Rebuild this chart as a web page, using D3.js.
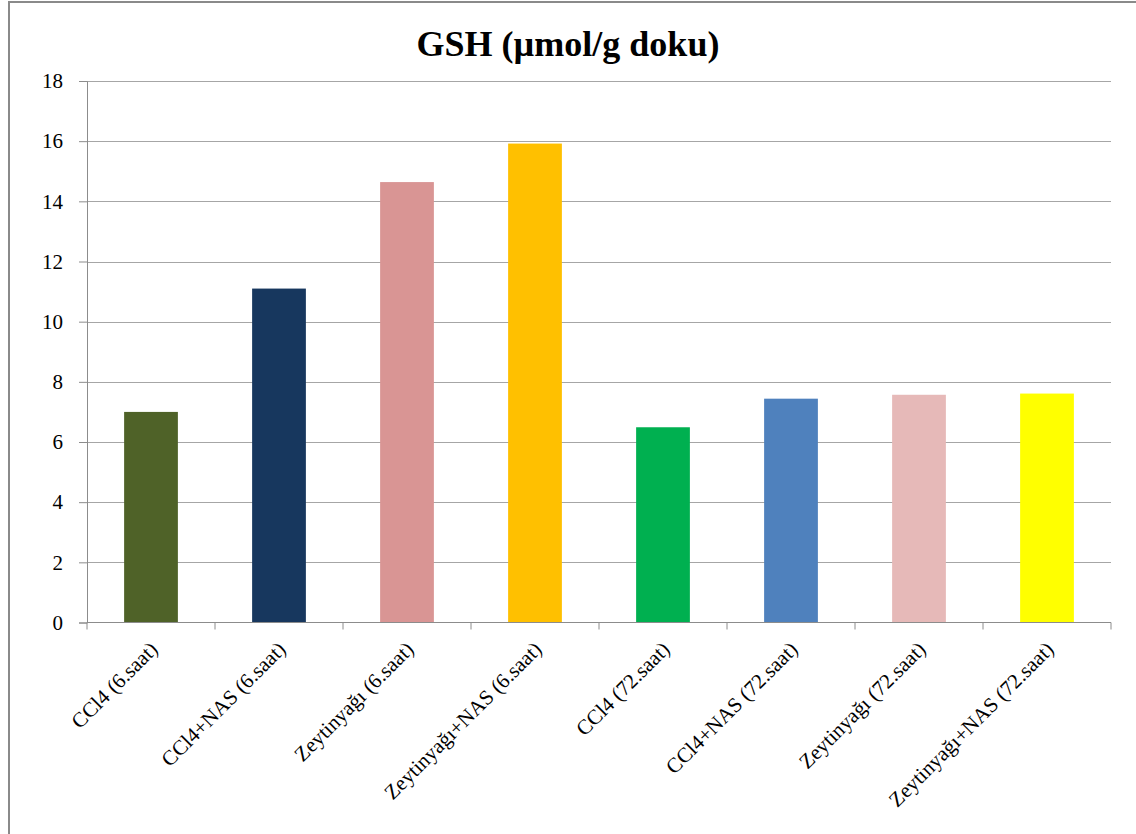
<!DOCTYPE html>
<html>
<head>
<meta charset="utf-8">
<script src="https://cdn.jsdelivr.net/npm/d3@7"></script>
<style>
  html, body { margin: 0; padding: 0; background: #fff; }
  svg { display: block; }
  text { font-family: "Liberation Serif", "Times New Roman", serif; fill: #000; }
</style>
</head>
<body>
<svg id="chart" width="1136" height="834"></svg>
<script>
// GSH levels per group
const categories = [
  "CCl4 (6.saat)",
  "CCl4+NAS (6.saat)",
  "Zeytinyağı (6.saat)",
  "Zeytinyağı+NAS (6.saat)",
  "CCl4 (72.saat)",
  "CCl4+NAS (72.saat)",
  "Zeytinyağı (72.saat)",
  "Zeytinyağı+NAS (72.saat)"
];
const values = [7.0, 11.1, 14.64, 15.92, 6.49, 7.44, 7.57, 7.61];
const barColors = ["#4F6228", "#17375E", "#D99594", "#FFC000", "#00B050", "#4F81BD", "#E6B9B8", "#FFFF00"];
const yTicks = [0, 2, 4, 6, 8, 10, 12, 14, 16, 18];
const titleText = "GSH (µmol/g doku)";

const svg = d3.select("#chart");

// chart frame
svg.append("path")
  .attr("d", "M9,834 L9,2 L1136,2")
  .attr("fill", "none")
  .attr("stroke", "#8a8a8a")
  .attr("stroke-width", 2);

const plot = { left: 87, right: 1111, top: 81, bottom: 622.5 };

const x = d3.scaleBand()
  .domain(categories)
  .range([plot.left, plot.right])
  .paddingInner(0.58)
  .paddingOuter(0.29);

const y = d3.scaleLinear()
  .domain([0, 18])
  .range([plot.bottom, plot.top]);

// horizontal gridlines
svg.append("g")
  .selectAll("line")
  .data(yTicks.filter(d => d > 0))
  .join("line")
  .attr("x1", plot.left)
  .attr("x2", plot.right)
  .attr("y1", d => Math.round(y(d)) + 0.5)
  .attr("y2", d => Math.round(y(d)) + 0.5)
  .attr("stroke", "#a6a6a6")
  .attr("stroke-width", 1.2);

// y axis
const yAxis = d3.axisLeft(y)
  .tickValues(yTicks)
  .tickSize(8)
  .tickPadding(16)
  .tickFormat(d3.format("d"));

const gy = svg.append("g")
  .attr("transform", `translate(${plot.left},0)`)
  .call(yAxis);
gy.select(".domain").attr("stroke", "#8c8c8c");
gy.selectAll(".tick line").attr("stroke", "#8c8c8c");
gy.selectAll(".tick text")
  .attr("font-size", 21)
  .attr("font-family", "'Liberation Serif', serif");

// bars
svg.append("g")
  .selectAll("rect")
  .data(categories)
  .join("rect")
  .attr("x", d => x(d))
  .attr("width", x.bandwidth())
  .attr("y", (d, i) => y(values[i]))
  .attr("height", (d, i) => y(0) - y(values[i]))
  .attr("fill", (d, i) => barColors[i]);

// x axis with ticks between categories
const boundaries = d3.range(categories.length + 1).map(i => plot.left + i * (plot.right - plot.left) / categories.length);
const gx = svg.append("g");
gx.append("line")
  .attr("x1", plot.left).attr("x2", plot.right)
  .attr("y1", plot.bottom).attr("y2", plot.bottom)
  .attr("stroke", "#8c8c8c").attr("stroke-width", 1.2);
gx.selectAll("line.tk")
  .data(boundaries)
  .join("line")
  .attr("class", "tk")
  .attr("x1", d => d).attr("x2", d => d)
  .attr("y1", plot.bottom).attr("y2", plot.bottom + 7)
  .attr("stroke", "#8c8c8c");

// rotated category labels
gx.selectAll("text")
  .data(categories)
  .join("text")
  .attr("text-anchor", "end")
  .attr("font-size", 21)
  .attr("transform", d => `translate(${x(d) + x.bandwidth() / 2 + 8},${plot.bottom + 28}) rotate(-45)`)
  .text(d => d);

// title
svg.append("text")
  .attr("x", 568)
  .attr("y", 56)
  .attr("text-anchor", "middle")
  .attr("font-size", 36)
  .attr("font-weight", "bold")
  .text(titleText);
</script>
</body>
</html>
